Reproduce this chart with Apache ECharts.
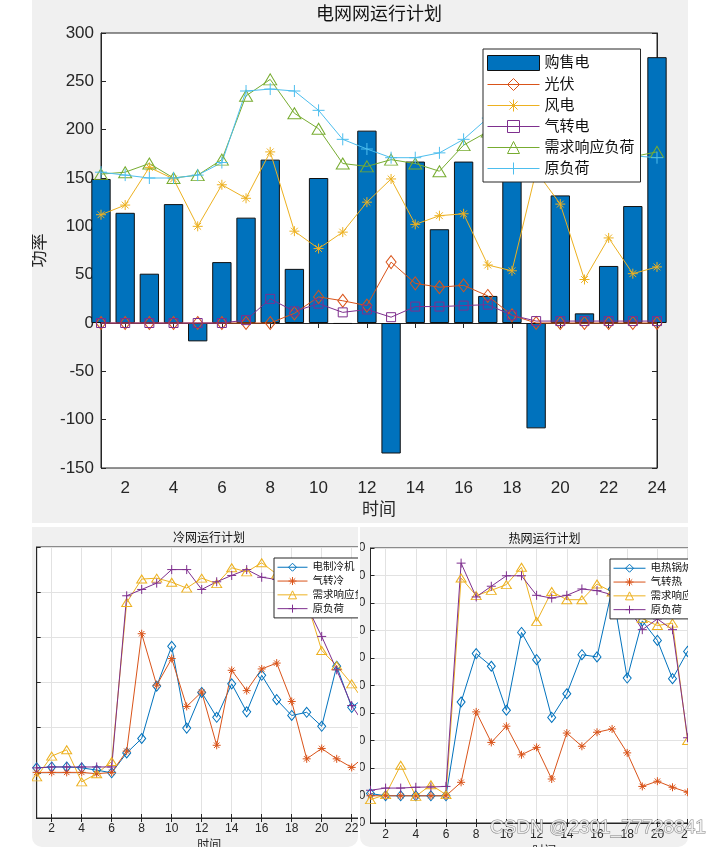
<!DOCTYPE html>
<html><head><meta charset="utf-8">
<script src="https://cdn.jsdelivr.net/npm/echarts@6/dist/echarts.min.js"></script>
<style>
body{margin:0;background:#fff;width:716px;height:847px;overflow:hidden;position:relative}
.p{position:absolute;background:#f0f0f0;overflow:hidden}
</style></head><body>
<div class="p" style="left:32px;top:0;width:656px;height:523px"><div id="c1" style="position:absolute;left:0;top:0;width:656px;height:523px"></div></div>
<div class="p" style="left:32px;top:527px;width:326px;height:320px;border-radius:0 0 10px 10px"><div id="c2" style="position:absolute;left:0;top:0;width:420px;height:320px"></div></div>
<div class="p" style="left:360px;top:527px;width:328px;height:320px;border-radius:0 0 10px 10px"><div id="c3" style="position:absolute;left:-40px;top:0;width:460px;height:320px"></div></div>
<div id="c4" style="position:absolute;left:0;top:0;width:716px;height:847px;pointer-events:none"></div>
<script>
// ---------- data ----------
const hours = ['1','2','3','4','5','6','7','8','9','10','11','12','13','14','15','16','17','18','19','20','21','22','23','24'];

// 电网网运行计划
const gridBuySell = [149, 114, 51, 123, -19, 63, 109, 169, 56, 150, -1, 199, -135, 167, 97, 167, 28, 160, -109, 132, 10, 59, 121, 275];
const gridPV      = [0, 0, 0, 0, 0, 0, 0, 0, 10, 27, 23, 18, 63, 41, 37, 39, 28, 8, 0, 0, 0, 0, 0, 0];
const gridWind    = [112, 122, 161, 149, 100, 143, 129, 177, 95, 77, 94, 125, 149, 102, 111, 113, 60, 54, 157, 123, 45, 88, 51, 58];
const gridGasElec = [0, 0, 0, 0, 0, 0, 3, 25, 12, 20, 11, 14, 6, 17, 17, 18, 19, 8, 2, 2, 2, 2, 2, 2];
const gridDR      = [154, 156, 165, 150, 153, 169, 235, 252, 217, 201, 165, 162, 169, 165, 157, 184, 198, 200, 205, 200, 190, 180, 172, 177];
const gridLoad    = [156, 153, 150, 150, 153, 166, 240, 242, 240, 220, 190, 180, 171, 171, 176, 190, 212, 220, 216, 206, 195, 183, 173, 171];
const gridTicksY  = [-150, 300, 50];

// 冷网运行计划
const coldElecChiller = [11.1, 11.3, 11.3, 11.1, 10.6, 10.0, 14.4, 17.6, 29.2, 38.0, 19.9, 27.8, 22.3, 29.7, 23.5, 31.6, 26.2, 22.7, 23.4, 20.3, 33.6, 24.5, 27, 25];
const coldGas         = [10.1, 10.1, 10.1, 10.1, 9.8, 10.1, 14.8, 40.8, 29.4, 35.3, 24.7, 27.9, 16.1, 32.7, 28.2, 33.0, 34.3, 25.8, 13.1, 15.4, 13.1, 11.2, 14, 12];
const coldDR          = [9.1, 13.7, 15.1, 8.0, 9.8, 12.5, 47.7, 52.9, 53.1, 52.2, 50.9, 53.1, 51.9, 55.4, 54.5, 56.5, 54, 52, 48, 37.1, 33.7, 29.7, 25, 22];
const coldLoad        = [11.1, 11.3, 11.3, 11.3, 11.3, 11.3, 49.2, 50.6, 52.0, 55.0, 55.0, 50.6, 52.3, 53.7, 55.0, 53.3, 52.8, 51, 47, 40.2, 32.8, 24.9, 20, 18];
const coldTicksY      = [0, 60, 10];

// 热网运行计划
const heatBoiler = [10.7, 9.9, 9.9, 9.9, 9.9, 9.9, 44.0, 61.6, 57.0, 41.0, 69.3, 59.4, 38.4, 47.0, 61.2, 60.4, 85, 52.7, 73.5, 66.4, 52.5, 62.4, 55, 60];
const heatGas    = [9.9, 9.9, 9.9, 9.9, 9.9, 9.9, 14.8, 40.4, 29.3, 35.2, 24.8, 27.5, 16.0, 32.7, 27.9, 33.0, 34.2, 25.5, 13.3, 15.2, 13.0, 11.2, 12, 11];
const heatDR     = [8.5, 10.3, 21.0, 9.7, 13.9, 10.3, 89.1, 82.7, 84.6, 86.7, 93.0, 73.3, 84.2, 81.2, 81.2, 86.9, 84, 80, 74.3, 71.8, 72.7, 30, 28, 26];
const heatLoad   = [11.9, 12.7, 12.7, 13.0, 13.1, 13.3, 94.5, 82.2, 86.1, 89.9, 89.9, 82.8, 81.8, 82.8, 85.1, 84.5, 83, 79, 70.3, 74.2, 70.3, 31, 29, 27];
const heatTicksY = [0, 100, 10];

// ---------- styling ----------
const FF = "'Liberation Sans','Noto Sans CJK SC',sans-serif";
const AX = '#262626';
const C = {blue:'#0072BD', orange:'#D95319', yellow:'#EDB120', purple:'#7E2F8E', green:'#77AC30', cyan:'#4DBEEE'};
const SYM = {
  plus:'path://M5,0L5,10M0,5L10,5',
  star:'path://M5,0L5,10M0,5L10,5M1.6,1.6L8.4,8.4M8.4,1.6L1.6,8.4'
};
const even = function(i){ return i % 2 === 1; };

function line(name, data, color, symbol, size){
  return {
    type:'line', name:name, data:data, symbol:symbol, symbolSize:size, showAllSymbol:true,
    lineStyle:{color:color, width:1},
    itemStyle:{color:'rgba(255,255,255,0)', borderColor:color, borderWidth:1},
    emphasis:{disabled:true}, silent:true, animation:false
  };
}

function axesSet(o){
  const xa = [{
    type:'category', data:hours, boundaryGap:false,
    axisLine:{lineStyle:{color:AX}},
    axisTick:{inside:true, length:o.tick, interval:even, lineStyle:{color:AX}},
    axisLabel:{interval:even, fontSize:o.fs, color:AX, margin:o.xm, fontFamily:FF},
    splitLine:{show:o.grid, interval:even, lineStyle:{color:'#e2e2e2'}},
    name:'时间', nameLocation:'middle', nameGap:o.ng, nameTextStyle:{fontSize:o.nfs, color:AX, fontFamily:FF}
  },{
    type:'category', data:hours, boundaryGap:false, position:'top',
    axisLine:{lineStyle:{color:AX}},
    axisTick:{inside:true, length:o.tick, interval:even, lineStyle:{color:AX}},
    axisLabel:{show:false}, splitLine:{show:false}
  }];
  const ya = [{
    type:'value', min:o.y[0], max:o.y[1], interval:o.y[2],
    axisLine:{show:true, lineStyle:{color:AX}},
    axisTick:{show:true, inside:true, length:o.tick, lineStyle:{color:AX}},
    axisLabel:{fontSize:o.fs, color:AX, margin:o.ym, fontFamily:FF},
    splitLine:{show:o.grid, lineStyle:{color:'#e2e2e2'}},
    name:o.yname||'', nameLocation:'middle', nameGap:o.yng||0, nameTextStyle:{fontSize:o.nfs, color:AX, fontFamily:FF}
  },{
    type:'value', min:o.y[0], max:o.y[1], interval:o.y[2], position:'right',
    axisLine:{show:true, lineStyle:{color:AX}},
    axisTick:{show:true, inside:true, length:o.tick, lineStyle:{color:AX}},
    axisLabel:{show:false}, splitLine:{show:false}
  }];
  return {xAxis:xa, yAxis:ya};
}

function legendOf(names, left, top, iw, ih, gap, fs, pad){
  return {
    data:names, orient:'vertical', left:left, top:top, padding:pad, itemWidth:iw, itemHeight:ih, itemGap:gap,
    backgroundColor:'#fff', borderColor:AX, borderWidth:1, borderRadius:0,
    itemStyle:{borderWidth:1}, lineStyle:{width:1},
    textStyle:{fontSize:fs, color:'#111', lineHeight:ih, fontFamily:FF}, z:10, selectedMode:false
  };
}

// ---------- chart 1: 电网 ----------
const ax1 = axesSet({tick:5, fs:17, xm:12, ym:7, grid:false, ng:34, nfs:17, y:gridTicksY, yname:'功率', yng:44});
echarts.init(document.getElementById('c1')).setOption({
  animation:false,
  textStyle:{fontFamily:FF},
  graphic:[{type:'text', x:347, y:15, style:{text:'电网网运行计划', font:'18px '+FF, fill:'#111', align:'center', verticalAlign:'middle'}}],
  legend:legendOf([{name:'购售电', icon:'rect'}, '光伏', '风电', '气转电', '需求响应负荷', '原负荷'], 451, 49, 52, 15, 6, 15, [6,6,6,4]),
  grid:{left:69, top:33, width:556, height:435, show:true, backgroundColor:'#fff', borderColor:AX, borderWidth:1, outerBoundsMode:'none', containLabel:false},
  xAxis:ax1.xAxis, yAxis:ax1.yAxis,
  series:[
    {type:'bar', name:'购售电', data:gridBuySell, barWidth:'80%', clip:true,
     itemStyle:{color:C.blue, borderColor:'#111', borderWidth:1}, emphasis:{disabled:true}, silent:true},
    line('光伏', gridPV, C.orange, 'diamond', [10,13]),
    line('风电', gridWind, C.yellow, SYM.star, 10),
    line('气转电', gridGasElec, C.purple, 'rect', 9),
    line('需求响应负荷', gridDR, C.green, 'triangle', [13,11]),
    line('原负荷', gridLoad, C.cyan, SYM.plus, 12)
  ]
});

// ---------- chart 2: 冷网 ----------
const ax2 = axesSet({tick:4, fs:12, xm:5, ym:5, grid:true, ng:21, nfs:12, y:coldTicksY});
echarts.init(document.getElementById('c2')).setOption({
  animation:false,
  textStyle:{fontFamily:FF},
  graphic:[{type:'text', x:177, y:12, style:{text:'冷网运行计划', font:'12px '+FF, fill:'#111', align:'center', verticalAlign:'middle'}}],
  legend:legendOf(['电制冷机', '气转冷', '需求响应负荷', '原负荷'], 242, 31, 30, 10, 3.3, 10.5, [4,6,4,3]),
  grid:{left:4.7, top:20, width:345, height:271, show:true, backgroundColor:'#fff', borderColor:AX, borderWidth:1, outerBoundsMode:'none', containLabel:false},
  xAxis:ax2.xAxis, yAxis:ax2.yAxis,
  series:[
    line('电制冷机', coldElecChiller, C.blue, 'diamond', [8,10]),
    line('气转冷', coldGas, C.orange, SYM.star, 8),
    line('需求响应负荷', coldDR, C.yellow, 'triangle', [10,8]),
    line('原负荷', coldLoad, C.purple, SYM.plus, 9)
  ]
});

// ---------- chart 3: 热网 ----------
const ax3 = axesSet({tick:4, fs:12, xm:6, ym:5, grid:true, ng:17, nfs:12, y:heatTicksY});
echarts.init(document.getElementById('c3')).setOption({
  animation:false,
  textStyle:{fontFamily:FF},
  graphic:[{type:'text', x:224.6, y:13, style:{text:'热网运行计划', font:'12px '+FF, fill:'#111', align:'center', verticalAlign:'middle'}}],
  legend:legendOf(['电热锅炉', '气转热', '需求响应负荷', '原负荷'], 290, 32, 32, 10, 3.3, 10.5, [4,6,4,3]),
  grid:{left:50.5, top:21, width:347.3, height:275, show:true, backgroundColor:'#fff', borderColor:AX, borderWidth:1, outerBoundsMode:'none', containLabel:false},
  xAxis:ax3.xAxis, yAxis:ax3.yAxis,
  series:[
    line('电热锅炉', heatBoiler, C.blue, 'diamond', [8,10]),
    line('气转热', heatGas, C.orange, SYM.star, 8),
    line('需求响应负荷', heatDR, C.yellow, 'triangle', [10,8]),
    line('原负荷', heatLoad, C.purple, SYM.plus, 9)
  ]
});

// ---------- watermark overlay ----------
echarts.init(document.getElementById('c4')).setOption({
  animation:false,
  graphic:[{type:'text', x:490, y:828, style:{text:'CSDN @2301_77728841', font:'19px '+FF, fill:'rgba(255,255,255,0.8)', stroke:'rgba(110,110,110,0.85)', lineWidth:1, align:'left', verticalAlign:'middle'}}]
});
</script>
</body></html>
